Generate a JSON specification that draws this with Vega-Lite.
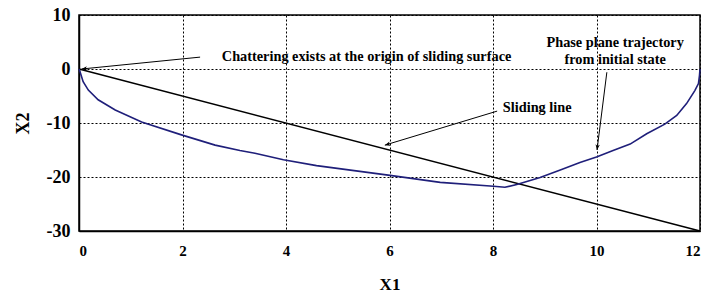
{
  "$schema": "https://vega.github.io/schema/vega-lite/v6.json",
  "autosize": "none",
  "width": 621,
  "height": 216,
  "padding": {"left": 79, "top": 15, "right": 5, "bottom": 66},
  "background": "white",
  "config": {
    "font": "Liberation Serif",
    "view": {"stroke": "black", "strokeWidth": 1.5},
    "axis": {
      "domainColor": "black", "domainWidth": 1.5,
      "ticks": false,
      "grid": true, "gridColor": "black", "gridDash": [2, 2], "gridWidth": 1, "gridOpacity": 1,
      "labelFont": "Liberation Serif", "labelFontWeight": "bold", "labelColor": "black",
      "titleFont": "Liberation Serif", "titleFontWeight": "bold", "titleColor": "black"
    }
  },
  "datasets": {
    "traj": [
      {"step": 1, "x1": 12.0, "x2": 0.0},
      {"step": 2, "x1": 11.99, "x2": -1.2},
      {"step": 3, "x1": 11.97, "x2": -2.7},
      {"step": 4, "x1": 11.9, "x2": -4.0},
      {"step": 5, "x1": 11.74, "x2": -6.4},
      {"step": 6, "x1": 11.55, "x2": -8.6},
      {"step": 7, "x1": 11.32, "x2": -10.2},
      {"step": 8, "x1": 10.97, "x2": -12.0},
      {"step": 9, "x1": 10.65, "x2": -13.9},
      {"step": 10, "x1": 10.32, "x2": -15.1},
      {"step": 11, "x1": 10.0, "x2": -16.3},
      {"step": 12, "x1": 9.68, "x2": -17.3},
      {"step": 13, "x1": 9.3, "x2": -18.7},
      {"step": 14, "x1": 8.91, "x2": -20.1},
      {"step": 15, "x1": 8.46, "x2": -21.4},
      {"step": 16, "x1": 8.23, "x2": -21.9},
      {"step": 17, "x1": 8.01, "x2": -21.7},
      {"step": 18, "x1": 6.98, "x2": -21.0},
      {"step": 19, "x1": 6.01, "x2": -19.7},
      {"step": 20, "x1": 4.59, "x2": -17.9},
      {"step": 21, "x1": 3.95, "x2": -16.8},
      {"step": 22, "x1": 3.4, "x2": -15.6},
      {"step": 23, "x1": 3.11, "x2": -15.1},
      {"step": 24, "x1": 2.63, "x2": -14.1},
      {"step": 25, "x1": 1.98, "x2": -12.2},
      {"step": 26, "x1": 1.21, "x2": -9.8},
      {"step": 27, "x1": 0.7, "x2": -7.6},
      {"step": 28, "x1": 0.37, "x2": -5.7},
      {"step": 29, "x1": 0.18, "x2": -3.9},
      {"step": 30, "x1": 0.08, "x2": -2.35},
      {"step": 31, "x1": 0.02, "x2": -0.5},
      {"step": 32, "x1": 0.0, "x2": 0.0}
    ],
    "sliding": [
      {"x1": 0, "x2": 0},
      {"x1": 12, "x2": -30}
    ],
    "arrows": [
      {"name": "chatter", "sx": 2.34, "sy": 2.2, "ex": 0.05, "ey": 0.0},
      {"name": "sliding", "sx": 8.08, "sy": -7.8, "ex": 5.91, "ey": -14.1},
      {"name": "phase", "sx": 10.2, "sy": -0.6, "ex": 10.01, "ey": -15.0}
    ]
  },
  "layer": [
    {
      "data": {"name": "sliding"},
      "mark": {"type": "line", "color": "black", "strokeWidth": 1.5},
      "encoding": {
        "x": {"field": "x1", "type": "quantitative", "scale": {"domain": [0, 12], "nice": false}, "axis": {"values": [0, 2, 4, 6, 8, 10, 12], "title": "X1", "labelFontSize": 15, "labelPadding": 12, "titleFontSize": 17, "titlePadding": 18}},
        "y": {"field": "x2", "type": "quantitative", "scale": {"domain": [-30, 10], "nice": false}, "axis": {"values": [-30, -20, -10, 0, 10], "labelExpr": "'' + datum.value", "title": "X2", "labelFontSize": 18, "labelPadding": 9, "titleFontSize": 18, "titlePadding": 14}}
      }
    },
    {
      "data": {"name": "traj"},
      "mark": {"type": "line", "color": "#1f1f7a", "strokeWidth": 1.6},
      "encoding": {
        "x": {"field": "x1", "type": "quantitative"},
        "y": {"field": "x2", "type": "quantitative"},
        "order": {"field": "step", "type": "quantitative"}
      }
    },
    {
      "data": {"name": "arrows"},
      "mark": {"type": "rule", "color": "black", "strokeWidth": 1},
      "encoding": {
        "x": {"field": "sx", "type": "quantitative"},
        "y": {"field": "sy", "type": "quantitative"},
        "x2": {"field": "ex"},
        "y2": {"field": "ey"}
      }
    },
    {
      "data": {"name": "arrows"},
      "transform": [{"filter": "datum.name == 'chatter'"}],
      "mark": {"type": "point", "shape": "M0,0L-1,-0.4L-0.75,0L-1,0.4Z", "filled": true, "color": "black", "opacity": 1, "size": 120, "angle": 174},
      "encoding": {"x": {"field": "ex", "type": "quantitative"}, "y": {"field": "ey", "type": "quantitative"}}
    },
    {
      "data": {"name": "arrows"},
      "transform": [{"filter": "datum.name == 'sliding'"}],
      "mark": {"type": "point", "shape": "M0,0L-1,-0.4L-0.75,0L-1,0.4Z", "filled": true, "color": "black", "opacity": 1, "size": 120, "angle": 163},
      "encoding": {"x": {"field": "ex", "type": "quantitative"}, "y": {"field": "ey", "type": "quantitative"}}
    },
    {
      "data": {"name": "arrows"},
      "transform": [{"filter": "datum.name == 'phase'"}],
      "mark": {"type": "point", "shape": "M0,0L-1,-0.4L-0.75,0L-1,0.4Z", "filled": true, "color": "black", "opacity": 1, "size": 120, "angle": 97},
      "encoding": {"x": {"field": "ex", "type": "quantitative"}, "y": {"field": "ey", "type": "quantitative"}}
    },
    {
      "data": {"values": [
        {"label": "Chattering exists at the origin of sliding surface", "x1": 2.76, "x2": 2.2},
        {"label": "Sliding line", "x1": 8.19, "x2": -7.2}
      ]},
      "mark": {"type": "text", "align": "left", "baseline": "middle", "font": "Liberation Serif", "fontWeight": "bold", "fontSize": 14.3, "color": "black"},
      "encoding": {
        "x": {"field": "x1", "type": "quantitative"},
        "y": {"field": "x2", "type": "quantitative"},
        "text": {"field": "label"}
      }
    },
    {
      "data": {"values": [
        {"label": "Phase plane trajectory", "x1": 10.36, "x2": 4.8},
        {"label": "from initial state", "x1": 10.36, "x2": 1.7}
      ]},
      "mark": {"type": "text", "align": "center", "baseline": "middle", "font": "Liberation Serif", "fontWeight": "bold", "fontSize": 14.3, "color": "black"},
      "encoding": {
        "x": {"field": "x1", "type": "quantitative"},
        "y": {"field": "x2", "type": "quantitative"},
        "text": {"field": "label"}
      }
    }
  ]
}
